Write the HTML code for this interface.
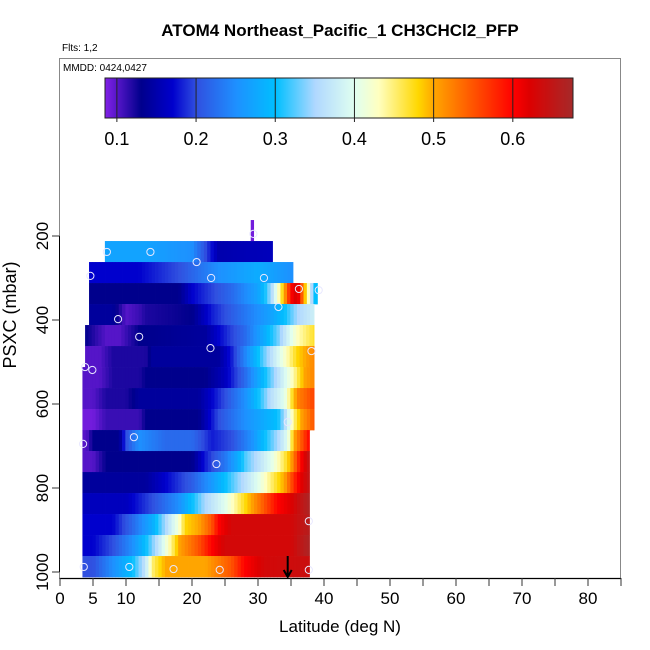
<!DOCTYPE html>
<html><head><meta charset="utf-8"><style>
html,body{margin:0;padding:0;background:#fff}
svg{display:block;font-family:"Liberation Sans",sans-serif}
</style></head><body>
<svg id="chart" width="650" height="650" viewBox="0 0 650 650" xmlns="http://www.w3.org/2000/svg">
<text x="340" y="36" text-anchor="middle" font-size="17" font-weight="bold">ATOM4 Northeast_Pacific_1 CH3CHCl2_PFP</text>
<text x="62" y="51" font-size="10">Flts: 1,2</text>
<rect x="59.5" y="58.5" width="561" height="520" fill="none" stroke="#888" stroke-width="1"/>
<text x="63" y="71" font-size="10">MMDD: 0424,0427</text>
<g id="cbar"></g>
<g id="cells"></g>
<g id="pts"></g>
<g id="axes"></g>
<text x="340" y="632" text-anchor="middle" font-size="17">Latitude (deg N)</text>
<text transform="translate(16,315) rotate(-90)" text-anchor="middle" font-size="18">PSXC (mbar)</text>
</svg>
<script>
// ---- data ----
const rowTops = [212,262,312,362,412,462,512,562,612,662,712,762,812,862,912,962];
const rowKnots = [
 [[6.8,0.27],[13,0.27],[20,0.25],[24,0.15],[32.2,0.16]],
 [[4.4,0.17],[12,0.17],[18,0.2],[24,0.25],[30,0.28],[35.3,0.25]],
 [[4.4,0.13],[18,0.13],[20,0.17],[26,0.22],[30,0.27],[31,0.3],[32,0.35],[33,0.42],[34,0.5],[35,0.6],[36,0.63],[37,0.5],[37.5,0.45],[38.5,0.3],[39,0.3]],
 [[4.4,0.14],[8,0.14],[10,0.1],[12,0.11],[13,0.12],[20,0.13],[23,0.18],[27,0.22],[32,0.27],[34,0.3],[36,0.35],[38.5,0.38]],
 [[3.8,0.13],[7,0.1],[9,0.1],[12,0.13],[22,0.14],[24,0.17],[28,0.22],[31,0.28],[33,0.33],[35,0.4],[36,0.43],[38.5,0.47]],
 [[3.8,0.1],[6,0.1],[8,0.12],[13,0.12],[14,0.14],[24,0.14],[26,0.18],[28,0.24],[30,0.3],[32,0.36],[34,0.42],[36,0.48],[38.5,0.52]],
 [[3.4,0.1],[6,0.1],[8,0.12],[12,0.12],[13,0.13],[22,0.13],[25,0.16],[28,0.22],[31,0.3],[33,0.36],[35,0.42],[37,0.5],[38.5,0.52]],
 [[3.4,0.1],[5,0.1],[7,0.12],[10,0.12],[12,0.14],[21,0.14],[23,0.17],[25,0.2],[28,0.25],[30,0.3],[32,0.36],[34,0.4],[35,0.46],[36,0.52],[38.5,0.56]],
 [[3.4,0.09],[5,0.09],[7,0.11],[12,0.11],[13,0.13],[21,0.13],[24,0.2],[28,0.25],[33,0.3],[34,0.35],[35.5,0.45],[36.5,0.5],[38.5,0.55]],
 [[3.4,0.1],[4,0.1],[5,0.13],[9,0.13],[10,0.2],[12,0.25],[16,0.22],[20,0.22],[23,0.18],[26,0.2],[29,0.25],[31,0.3],[33,0.35],[34.5,0.4],[35.5,0.5],[37.8,0.6]],
 [[3.4,0.1],[5,0.1],[7,0.13],[20,0.13],[22,0.18],[25,0.23],[27,0.28],[28,0.32],[30,0.36],[32,0.4],[34,0.46],[35,0.5],[36.5,0.6],[37.8,0.65]],
 [[3.4,0.14],[13,0.14],[16,0.17],[20,0.21],[23,0.26],[25,0.3],[27,0.34],[30,0.4],[32,0.45],[34,0.5],[36,0.6],[37.8,0.65]],
 [[3.4,0.16],[10,0.16],[14,0.2],[18,0.25],[20,0.3],[22,0.35],[25,0.4],[27,0.45],[29,0.5],[31,0.55],[33,0.6],[35,0.62],[37.8,0.67]],
 [[3.4,0.17],[8,0.17],[11,0.22],[14,0.28],[16,0.35],[18,0.42],[19,0.48],[21,0.5],[23,0.55],[24,0.6],[26,0.63],[35,0.63],[37.8,0.66]],
 [[3.4,0.17],[5,0.17],[8,0.2],[11,0.25],[13,0.3],[15,0.37],[17,0.45],[18,0.5],[21,0.55],[23,0.6],[25,0.63],[35,0.63],[37.8,0.67]],
 [[3.4,0.2],[5,0.2],[8,0.25],[11,0.3],[13,0.37],[14,0.45],[16,0.5],[22,0.5],[26,0.55],[28,0.6],[31,0.63],[37.8,0.64]]
];
const stripLat = [28.9,29.4], stripP = [162,212], stripVal = 0.09;
const ptLat = [7.1,13.7,20.7,22.9,4.6,29.3,30.9,36.2,39.2,33.1,8.8,12.0,22.8,38.1,3.8,4.9,34.5,11.2,3.5,23.7,37.7,3.6,10.5,17.2,24.2,37.7];
const ptP   = [238,238,262,300,295,195,300,326,329,369,398,440,467,474,512,519,643,679,695,743,879,988,988,993,995,995];
const cbTicks = [0.1,0.2,0.3,0.4,0.5,0.6];
const xTicks = [0,5,10,15,20,25,30,35,40,45,50,55,60,65,70,75,80,85];
const xLabels = [0,5,10,20,30,40,50,60,70,80];
const yTicks = [200,400,600,800,1000];
const arrowLat = 34.5;
// ---- scales ----
const xs = l => 60 + l*6.6;
const ys = p => 236 + (p-200)*0.42;
const cmin=0.085, cmax=0.676;
const cx = v => 105 + (v-cmin)/(cmax-cmin)*468;
const stops = [[0.085,[128,32,230]],[0.13,[0,0,140]],[0.17,[0,0,205]],[0.2,[48,80,224]],[0.25,[30,144,255]],[0.3,[0,191,255]],[0.35,[176,216,255]],[0.4,[224,255,240]],[0.43,[255,255,192]],[0.48,[255,215,0]],[0.5,[255,165,0]],[0.6,[255,0,0]],[0.62,[221,0,0]],[0.676,[165,42,42]]];
function col(v){
  if(v<=stops[0][0]) return 'rgb('+stops[0][1]+')';
  for(let i=1;i<stops.length;i++){ if(v<=stops[i][0]){const a=stops[i-1],b=stops[i],t=(v-a[0])/(b[0]-a[0]);
    return 'rgb('+a[1].map((c,k)=>Math.round(c+(b[1][k]-c)*t)).join(',')+')';}}
  return 'rgb('+stops[stops.length-1][1]+')';
}
function valAt(kn,l){ if(l<=kn[0][0])return kn[0][1];
  for(let i=1;i<kn.length;i++){ if(l<=kn[i][0]){const a=kn[i-1],b=kn[i];return a[1]+(b[1]-a[1])*(l-a[0])/(b[0]-a[0]);}}
  return kn[kn.length-1][1]; }
const NS='http://www.w3.org/2000/svg';
function mk(tag,attrs,parent){const e=document.createElementNS(NS,tag);for(const k in attrs)e.setAttribute(k,attrs[k]);parent.appendChild(e);return e;}
// colorbar
const cb=document.getElementById('cbar');
for(let x=105;x<573;x++){ const v=cmin+(x-105)/468*(cmax-cmin);
  const r=mk('rect',{x:x,y:78,width:1.2,height:40,fill:col(v)},cb);
  
  }
mk('rect',{x:105,y:78,width:468,height:40,fill:'none',stroke:'#222','stroke-width':1},cb);
cbTicks.forEach(t=>{ const l=mk('line',{x1:cx(t),x2:cx(t),y1:78,y2:122,stroke:'#222','stroke-width':1},cb);
  
  
  const tx=mk('text',{x:cx(t),y:145,'text-anchor':'middle','font-size':18},cb); tx.textContent=t.toFixed(1);
  
  });
// heatmap cells
const cg=document.getElementById('cells');
rowKnots.forEach((kn,ri)=>{ const l0=kn[0][0], l1=kn[kn.length-1][0]; const y0=ys(rowTops[ri]), y1=ys(rowTops[ri]+50);
  for(let l=l0;l<l1;l+=0.5){ const le=Math.min(l+0.5,l1); const v=valAt(kn,(l+le)/2);
    const r=mk('rect',{x:xs(l),y:y0,width:xs(le)-xs(l)+0.4,height:y1-y0+0.3,fill:col(v)},cg);
    
    }});
const st=mk('rect',{x:xs(stripLat[0]),y:ys(stripP[0]),width:xs(stripLat[1])-xs(stripLat[0]),height:ys(stripP[1])-ys(stripP[0]),fill:col(stripVal)},cg);


// points
const pg=document.getElementById('pts');
ptLat.forEach((l,i)=>{ const c=mk('circle',{cx:xs(l),cy:ys(ptP[i]),r:3.6,fill:'none',stroke:'#e8e8ff','stroke-width':1},pg);
  
  });
// axes
const ag=document.getElementById('axes');
mk('line',{x1:59.5,x2:620.5,y1:578.5,y2:578.5,stroke:'#000','stroke-width':1.3},ag);
mk('line',{x1:59.5,x2:59.5,y1:ys(200),y2:ys(1000),stroke:'#000','stroke-width':1},ag);
xTicks.forEach(t=>{const l=mk('line',{x1:xs(t),x2:xs(t),y1:578,y2:586,stroke:'#333','stroke-width':1},ag);
  
  });
xLabels.forEach(t=>{const tx=mk('text',{x:xs(t),y:604,'text-anchor':'middle','font-size':17},ag);tx.textContent=t;
  
  });
yTicks.forEach(t=>{const l=mk('line',{x1:52,x2:59.5,y1:ys(t),y2:ys(t),stroke:'#333','stroke-width':1},ag);
  
  
  const tx=mk('text',{transform:'translate(48,'+ys(t)+') rotate(-90)','text-anchor':'middle','font-size':17},ag);tx.textContent=t;
  
  });
// arrow
const ax=xs(arrowLat);
const ar=mk('path',{d:'M'+ax+' 556 L'+ax+' 577 M'+(ax-4)+' 570 L'+ax+' 577 L'+(ax+4)+' 570',stroke:'#000','stroke-width':2,fill:'none'},ag);


</script>
</body></html>
